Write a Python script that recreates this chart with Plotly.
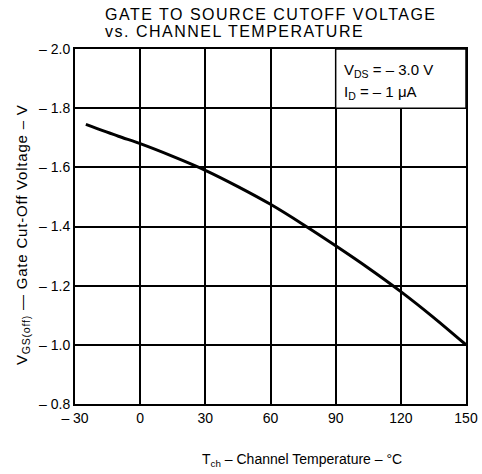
import plotly.graph_objects as go

# Channel temperature (deg C) and gate-source cutoff voltage (V)
temp_c = [-25, -10, 0, 15, 30, 45, 60, 75, 90, 105, 120, 135, 150]
vgs_off = [-1.745, -1.705, -1.68, -1.637, -1.59, -1.535, -1.475, -1.407, -1.335, -1.26, -1.18, -1.093, -1.0]

x_ticks = [-30, 0, 30, 60, 90, 120, 150]
x_labels = ["\u2013 30", "0", "30", "60", "90", "120", "150"]
y_ticks = [-2.0, -1.8, -1.6, -1.4, -1.2, -1.0, -0.8]
y_labels = ["\u2013 2.0", "\u2013 1.8", "\u2013 1.6", "\u2013 1.4", "\u2013 1.2", "\u2013 1.0", "\u2013 0.8"]

FONT = "Liberation Sans, Arial, sans-serif"

fig = go.Figure()

fig.add_trace(go.Scatter(
    x=temp_c,
    y=vgs_off,
    mode='lines',
    line=dict(color='black', width=3, shape='spline', smoothing=0.8),
    hoverinfo='skip',
    showlegend=False
))

# Condition box in the top-right cell (hides the 120 deg gridline there)
fig.add_shape(
    type='rect', xref='x', yref='y',
    x0=90, x1=150, y0=-2.0, y1=-1.8,
    fillcolor='white', line=dict(color='black', width=1.5),
    layer='above'
)
fig.add_annotation(
    x=93, y=-1.929, xref='x', yref='y',
    xanchor='left', yanchor='middle', showarrow=False, align='left',
    text="V<sub>DS</sub> = \u2013 3.0 V",
    font=dict(family=FONT, size=15, color='black')
)
fig.add_annotation(
    x=93, y=-1.853, xref='x', yref='y',
    xanchor='left', yanchor='middle', showarrow=False, align='left',
    text="I<sub>D</sub> = \u2013 1 \u03bcA",
    font=dict(family=FONT, size=15, color='black')
)

# Two-line heading (letter spacing added by post_script below)
heading_x = (103 - 75) / 391
fig.add_annotation(
    x=heading_x, y=1.096, xref='paper', yref='paper',
    xanchor='left', yanchor='middle', showarrow=False, align='left',
    text="GATE TO SOURCE CUTOFF VOLTAGE",
    font=dict(family=FONT, size=16, color='black')
)
fig.add_annotation(
    x=heading_x, y=1.048, xref='paper', yref='paper',
    xanchor='left', yanchor='middle', showarrow=False, align='left',
    text="vs. CHANNEL TEMPERATURE",
    font=dict(family=FONT, size=16, color='black')
)

# axis titles, both sit a little off centre in the original
fig.add_annotation(
    x=0.58, y=-0.158, xref='paper', yref='paper',
    xanchor='center', yanchor='middle', showarrow=False,
    text="T<sub>ch</sub> \u2013 Channel Temperature \u2013 \u00b0C",
    font=dict(family=FONT, size=14, color='black')
)
fig.add_annotation(
    x=-0.1355, y=0.476, xref='paper', yref='paper',
    xanchor='center', yanchor='middle', showarrow=False, textangle=-90,
    text="V<sub>GS(off)</sub> \u2014 Gate Cut-Off Voltage \u2013 V",
    font=dict(family=FONT, size=15, color='black')
)

fig.update_layout(
    width=482,
    height=474,
    margin=dict(l=75, r=16, t=49, b=70),
    paper_bgcolor='white',
    plot_bgcolor='white',
    hovermode=False,
    font=dict(family=FONT, size=14, color='black'),
    xaxis=dict(
        range=[-30, 150],
        tickvals=x_ticks,
        ticktext=x_labels,
        showgrid=True, gridcolor='black', gridwidth=1.5,
        showline=True, linecolor='black', linewidth=2, mirror=True,
        zeroline=False, ticks='', automargin=False
    ),
    yaxis=dict(
        range=[-0.8, -2.0],
        tickvals=y_ticks,
        ticktext=y_labels,
        showgrid=True, gridcolor='black', gridwidth=1.5,
        showline=True, linecolor='black', linewidth=2, mirror=True,
        zeroline=False, ticks='', automargin=False
    )
)

# drop the default page margin so the figure fills the window,
# and space out the heading / y title letters like the printed original
page_js = """
document.body.style.margin = '0';
document.body.style.overflow = 'hidden';
var gd = document.getElementById('{plot_id}');
gd.querySelectorAll('text.annotation-text').forEach(function (t) {
    if (/^(GATE|vs\\.)/.test(t.textContent)) { t.style.letterSpacing = '1.5px'; }
    if (/Gate Cut-Off/.test(t.textContent)) { t.style.letterSpacing = '0.8px'; }
});
"""

fig.write_html("out.html", post_script=page_js, config={'displayModeBar': False})
